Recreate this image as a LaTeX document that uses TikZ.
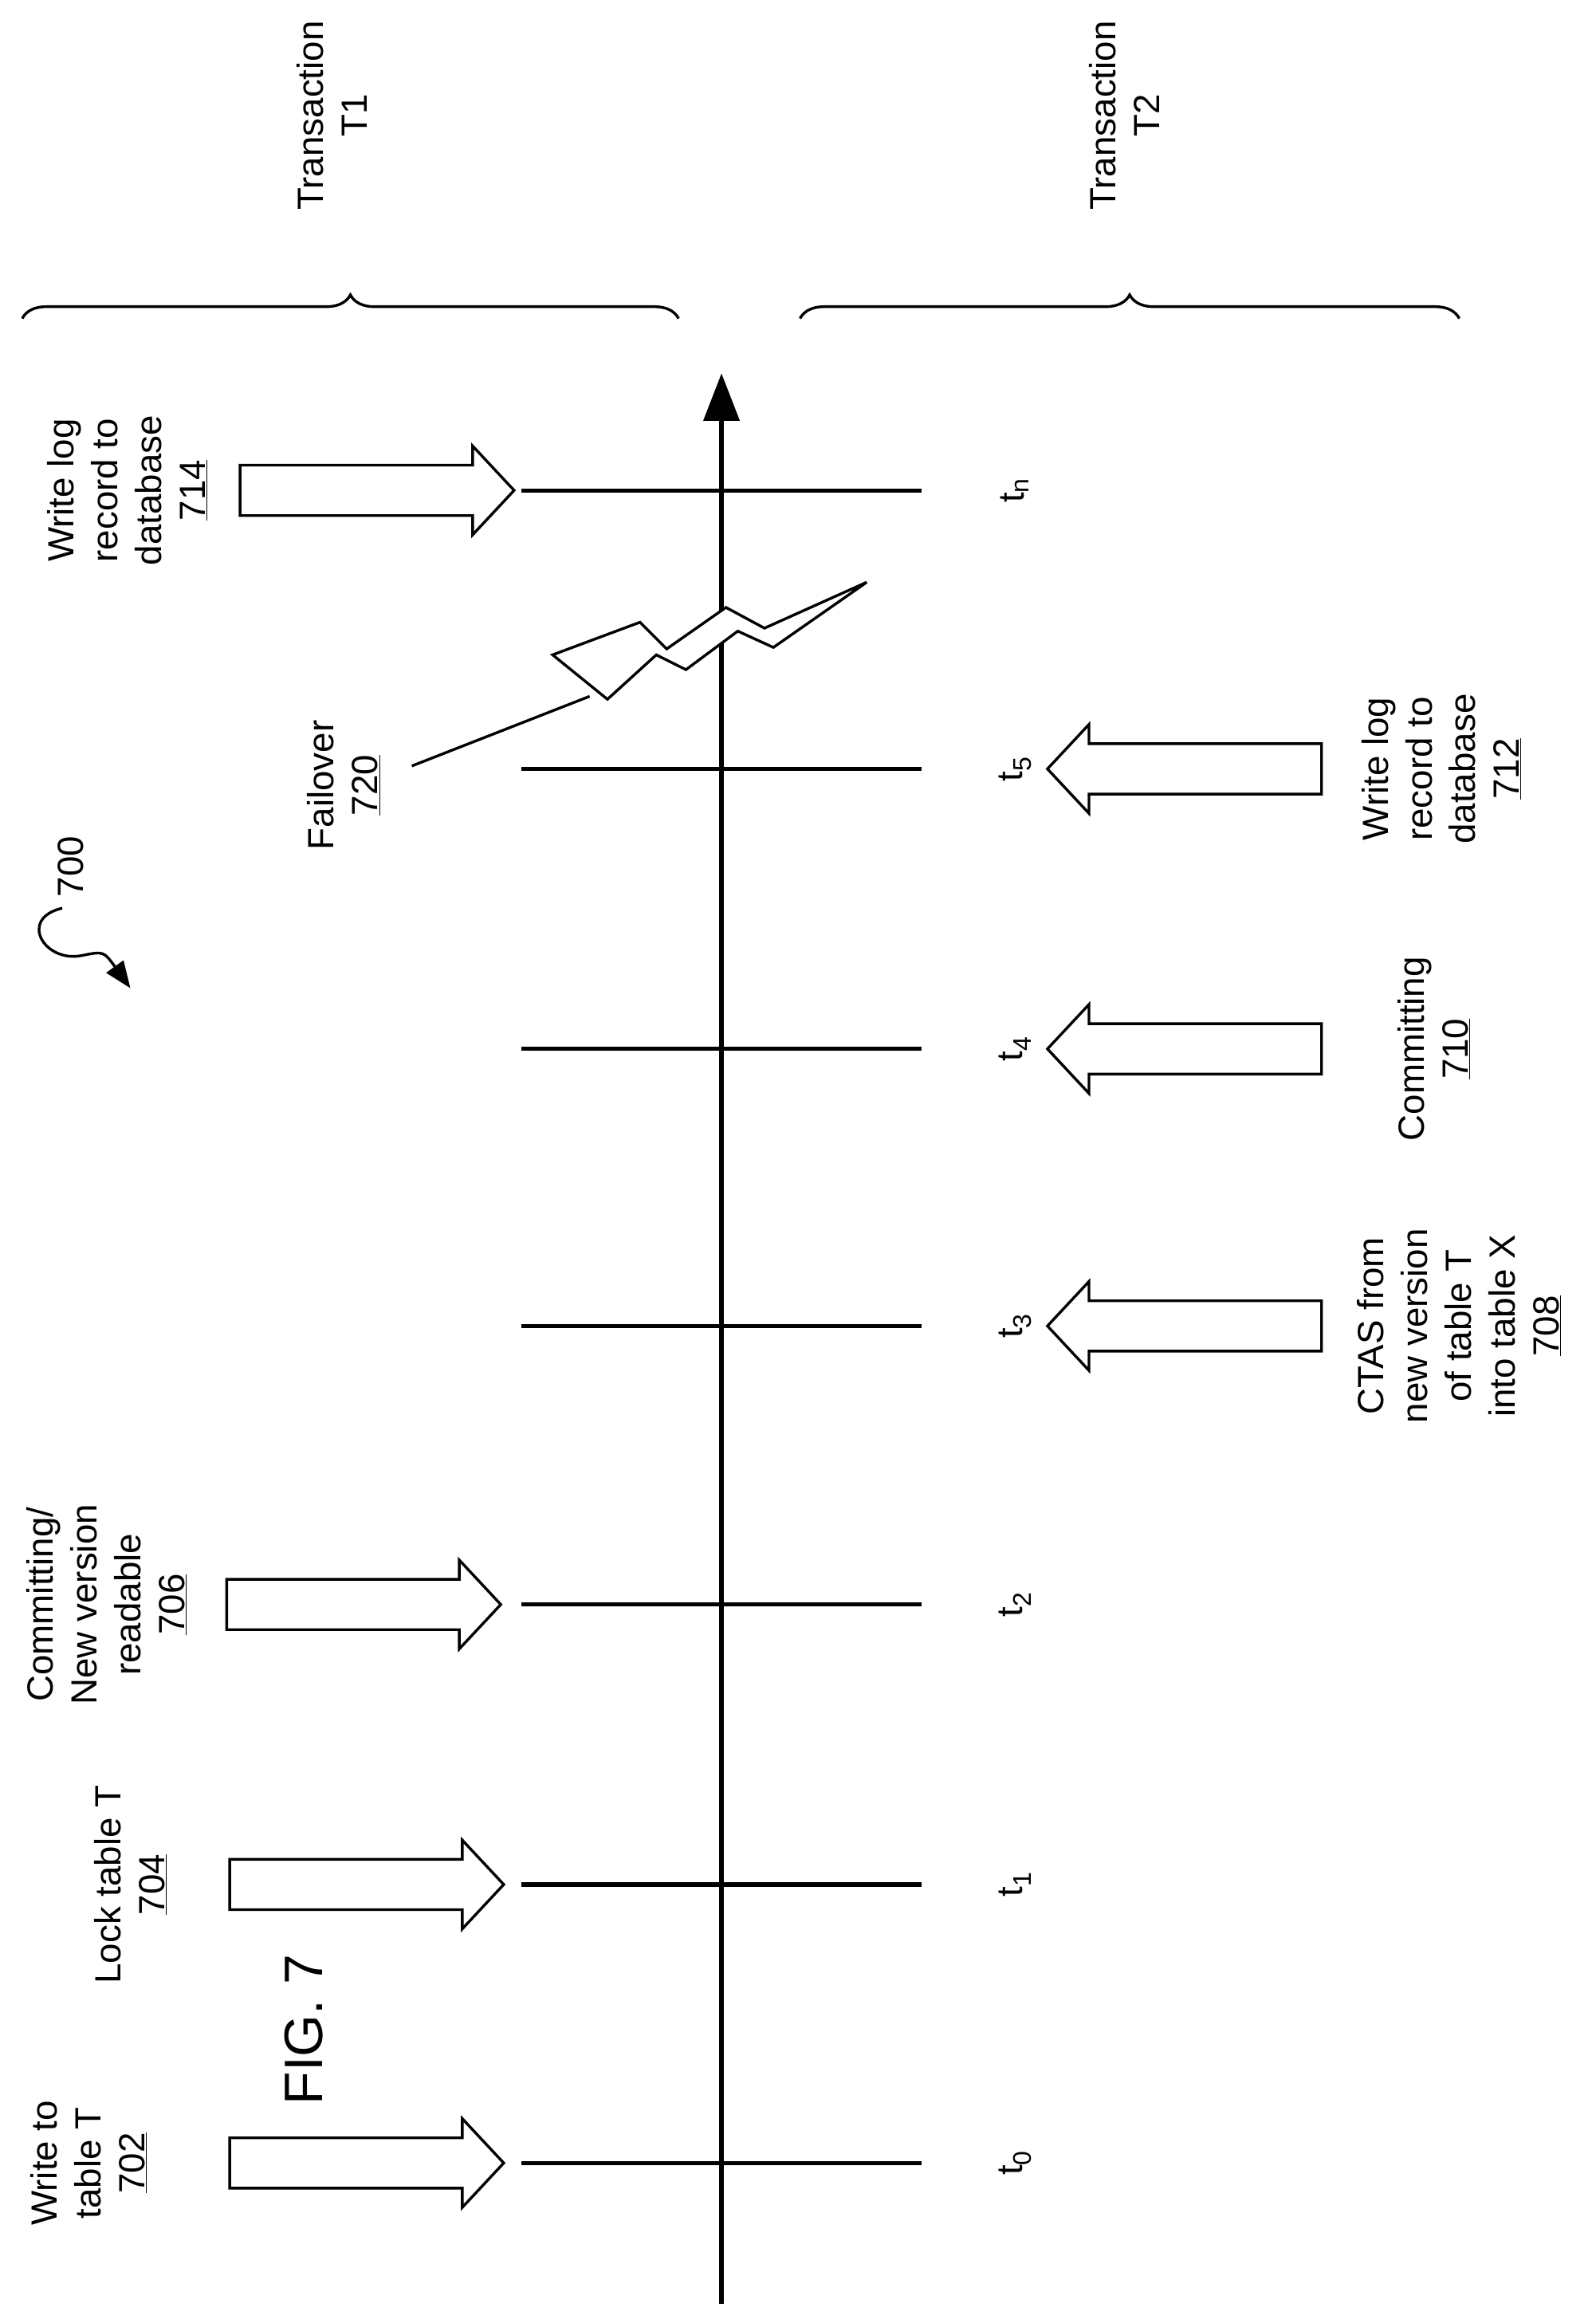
\documentclass[tikz,border=0pt]{standalone}
\usepackage{fontspec}
\setmainfont{Liberation Sans}
\usetikzlibrary{arrows.meta,decorations.pathreplacing}

\begin{document}
\begin{tikzpicture}[
    x=0.05cm, y=-0.05cm,
    txt/.style={rotate=90, align=center, font=\fontsize{35}{42}\selectfont},
    tick/.style={line width=4pt},
    thinline/.style={line width=2.6pt},
    brace/.style={decorate, decoration={brace, amplitude=0.8cm}, line width=2.6pt},
    blockarrow/.pic={\draw[line width=2.6pt, fill=white] (0,-17) -- (157,-17) -- (157,-30) -- (185,0)
        -- (157,30) -- (157,17) -- (0,17) -- cycle;}
]
\useasboundingbox (0,0) rectangle (1077,1568);

% Time axis
\coordinate (base) at (487,1555);
\coordinate (top) at (487,252);
\draw[tick, -{Triangle[length=1.6cm,width=1.2cm]}] (base) -- (top);

% Ticks
\foreach \name/\y in {t0/1460, t1/1272, t2/1083, t3/895, t4/708, t5/519, tn/331} {
  \coordinate (\name l) at (352,\y);
  \coordinate (\name r) at (622,\y);
  \draw[tick] (\name l) -- (\name r);
}
\node[txt] (lt0) at (685,1460) {t\textsubscript{0}};
\node[txt] (lt1) at (685,1272) {t\textsubscript{1}};
\node[txt] (lt2) at (685,1083) {t\textsubscript{2}};
\node[txt] (lt3) at (685,895) {t\textsubscript{3}};
\node[txt] (lt4) at (685,708) {t\textsubscript{4}};
\node[txt] (lt5) at (685,519) {t\textsubscript{5}};
\node[txt] (ltn) at (685,331) {t\textsubscript{n}};

% Transactions
\draw[brace] (15,215) -- (458,215);
\draw[brace] (540,215) -- (985,215);
\node[txt] (trans1) at (224,78) {Transaction\\T1};
\node[txt] (trans2) at (759,78) {Transaction\\T2};

% T1 steps
\pic (a702) at (155,1460) {blockarrow};
\pic (a704) at (155,1272) {blockarrow};
\pic (a706) at (153,1083) {blockarrow};
\pic (a714) at (162,331) {blockarrow};
\node[txt] (s702) at (60,1460) {Write to\\table T\\\underline{702}};
\node[txt] (s704) at (88,1272) {Lock table T\\\underline{704}};
\node[txt] (s706) at (72,1083) {Committing/\\New version\\readable\\\underline{706}};
\node[txt] (s714) at (86,331) {Write log\\record to\\database\\\underline{714}};

% T2 steps
\pic[xscale=-1] (a708) at (892,895) {blockarrow};
\pic[xscale=-1] (a710) at (892,708) {blockarrow};
\pic[xscale=-1] (a712) at (892,519) {blockarrow};
\node[txt] (s708) at (985,895) {CTAS from\\new version\\of table T\\into table X\\\underline{708}};
\node[txt] (s710) at (968,708) {Committing\\\underline{710}};
\node[txt] (s712) at (973,519) {Write log\\record to\\database\\\underline{712}};

% Failover
\draw[thinline, fill=white] (373,442) -- (432,420) -- (450,438) -- (490,410) -- (516,424)
  -- (585,393) -- (522,437) -- (498,426) -- (463,452) -- (443,442) -- (410,472) -- cycle;
\coordinate (boltfoot) at (398,470);
\coordinate (failfoot) at (278,517);
\draw[thinline] (failfoot) -- (boltfoot);
\node[txt] (s720) at (232,530) {Failover\\\underline{720}};

% Figure reference
\node[txt] (n700) at (48,585) {700};
\coordinate (sq0) at (42,613);
\coordinate (sq1) at (88,667);
\draw[thinline, -{Triangle[length=0.9cm,width=0.7cm]}]
  (sq0) .. controls (12,620) and (30,650) .. (55,645) .. controls (70,642) .. (sq1);
\node[rotate=90, font=\fontsize{52}{60}\selectfont] (fig) at (205,1370) {FIG. 7};
\end{tikzpicture}
\end{document}
